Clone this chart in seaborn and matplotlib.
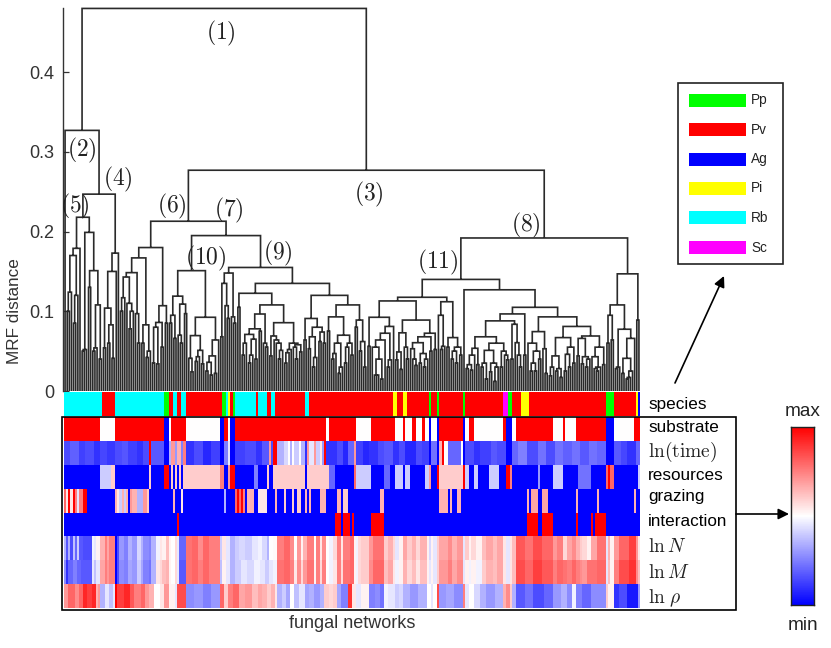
import numpy as np
import pandas as pd
import seaborn as sns
import matplotlib
matplotlib.use("Agg")
import matplotlib.pyplot as plt
from matplotlib.colors import ListedColormap
from matplotlib.patches import Rectangle, FancyArrowPatch

# ---------- data ----------
# merge height (x1000) between neighbouring leaves of the dendrogram, 269 values for 270 networks
MERGE_HEIGHTS = [
    327, 100, 124, 170, 85, 120, 179, 218, 50, 52,
    199, 130, 151, 50, 54, 108, 40, 247, 54, 104,
    60, 83, 41, 150, 173, 480, 100, 117, 143, 110,
    78, 100, 148.5, 97, 60, 167, 60, 83, 42, 50,
    180, 35, 80, 34, 86, 55, 107, 85, 213, 85,
    95, 66, 119, 70, 60, 109, 97, 151, 41, 24,
    69.5, 37, 43, 51, 34, 92.5, 25, 36, 20, 44,
    22, 64, 195, 68, 135, 107, 91, 148, 93, 85,
    155, 105, 122.6, 45, 60, 71, 35, 45, 65, 40,
    78, 75, 96.6, 60, 55, 108, 44, 69, 64, 60,
    40, 51, 85.7, 35, 48, 52, 60, 55, 40, 58,
    49, 135, 64, 91, 53, 68, 30, 42, 80, 62,
    74, 60, 120, 75, 93, 40, 47, 60, 22, 30,
    70, 35, 55, 60, 45, 108, 80, 89, 50, 62,
    30, 277, 56, 92.5, 55, 20, 20, 40, 15, 64,
    72.5, 30, 39, 81, 113, 39, 49, 27, 73, 55,
    40, 89, 53, 40, 32, 60.6, 35, 47, 30, 40,
    68, 50, 72.5, 52, 117.6, 95, 52, 56, 112, 55,
    67, 40, 50, 35, 55, 45, 140, 127, 28, 33,
    26, 45, 53.6, 33, 68, 30, 35, 15, 51, 24,
    35, 12, 30, 60, 30, 50, 45, 39, 88, 40,
    83.7, 60.6, 45, 30, 96.7, 45, 105, 60, 25, 35,
    25, 50, 40, 74.5, 53, 22, 93, 19, 30, 44,
    25, 28, 17, 67, 25, 46, 30, 55, 35, 81,
    44, 66, 34, 43, 30, 40, 69, 43, 28, 25,
    30, 55, 33, 192, 60, 95, 64, 108, 28, 30,
    77.5, 22, 41, 15, 17, 25, 66, 147, 89,
]

SPECIES_NAMES = ["Pp", "Pv", "Ag", "Pi", "Rb", "Sc"]
SPECIES_COLORS = ["#00ff00", "#ff0000", "#0000ff", "#ffff00", "#00ffff", "#ff00ff"]

# each strip is a run list: (last network of the run, value)
SPECIES_RUNS = [(18, 4), (24, 1), (47, 4), (49, 0), (51, 1), (53, 4), (55, 1), (57, 4), (74, 1), (76, 0), (77, 4), (78, 3),
                (79, 1), (80, 0), (90, 4), (91, 1), (95, 4), (97, 1), (99, 4), (113, 1), (115, 4), (154, 1), (156, 3),
                (159, 1), (161, 3), (171, 1), (172, 0), (175, 1), (176, 0), (187, 1), (188, 0), (206, 1), (208, 5),
                (210, 0), (214, 1), (218, 3), (254, 1), (258, 0), (268, 1), (269, 3), (270, 2)]
SUBSTRATE_RUNS = [(17, 1), (24, 0), (47, 1), (49, -1), (50, 0), (57, 1), (73, 0), (75, -1), (77, 1), (78, 0), (80, -1),
                  (123, 1), (124, 0), (137, 1), (144, 0), (155, 1), (159, 0), (160, 1), (163, 0), (165, 1), (168, 0),
                  (169, 1), (171, 0), (172, -1), (175, 0), (176, -1), (187, 1), (188, -1), (190, 0), (192, 1), (206, 0),
                  (207, 1), (210, -1), (212, 0), (229, 1), (234, 0), (235, 1), (240, 0), (254, 1), (258, -1), (267, 0), (270, 1)]
TIME_RUNS = [(3, -.7), (7, -.62), (10, -.75), (14, -.7), (17, -.8), (20, -.72), (24, -.78), (27, -.7), (30, -.66), (34, -.75),
             (37, -.8), (40, -.7), (41, 1), (47, -.65), (49, -1), (50, -.3), (52, .4), (53, -.4), (55, .3), (56, -.5), (57, .5),
             (61, -.8), (65, -.7), (69, -.85), (73, -.75), (75, -1), (77, -.5), (78, -.1), (80, -1), (85, -.75), (90, -.7),
             (93, -.8), (96, -.65), (97, .4), (98, -.7), (100, 1), (103, -.3), (105, -.15), (106, 0), (107, -.3), (108, 0),
             (110, -.2), (111, 0), (113, -.3), (114, -.8), (115, .4), (117, -.1), (118, .4), (120, -.2), (121, .1), (122, -.4),
             (123, 1), (128, -.8), (131, -.7), (133, -.85), (136, -.6), (137, .4), (140, -.75), (143, -.85), (147, -.8), (150, -.7),
             (154, -.65), (157, -.8), (160, -.7), (165, -.85), (168, -.7), (171, -.75), (172, -1), (175, -.55), (176, -1), (177, .3),
             (178, 1), (180, 0), (186, -.6), (187, 0), (188, -1), (192, -.7), (195, -.8), (200, -.75), (203, -.65), (207, -.7),
             (210, -1), (213, -.6), (217, -.5), (222, -.7), (226, -.55), (230, -.7), (234, -.55), (238, -.62), (242, -.55),
             (246, -.65), (250, -.55), (254, -.6), (258, -1), (261, -.65), (264, -.72), (268, -.8), (270, -.6)]
RESOURCES_RUNS = [(17, -1), (22, -.2), (24, .2), (40, -1), (41, .2), (47, -1), (49, 1), (50, -1), (51, .2), (52, -1), (53, .2),
                  (54, -1), (55, .2), (56, -1), (73, .2), (75, .5), (77, -1), (78, .4), (80, 1), (89, -1), (91, -.5), (95, -1),
                  (96, .2), (98, -1), (113, .2), (114, -1), (124, .2), (127, -.6), (136, -1), (137, .6), (144, -.2), (150, -1),
                  (153, -.6), (155, -1), (159, -.2), (160, -1), (162, -.2), (169, -1), (171, -.2), (172, .4), (175, -1), (176, 1),
                  (187, .2), (188, 1), (190, -.2), (192, -1), (194, -.2), (199, -1), (204, -.2), (207, -1), (209, 1), (210, .5),
                  (222, -1), (223, -.4), (229, -1), (234, -.2), (241, -1), (247, -.55), (254, -1), (255, .6), (256, 1), (258, .6),
                  (269, -1), (270, -.2)]
GRAZING_RUNS = [(1, .6), (2, .1), (3, 1), (4, .1), (5, 1), (6, .5), (7, -.1), (9, .5), (11, 1), (24, -1), (25, .3), (26, .1),
                (27, -.2), (28, .3), (29, -.2), (30, .3), (31, -1), (32, .4), (34, .3), (37, -.3), (39, .4), (40, .2), (51, -1),
                (52, .3), (55, -1), (56, .1), (75, -1), (76, -.3), (80, -1), (81, .6), (82, 1), (83, .6), (84, 1), (85, .5), (86, -1),
                (89, .3), (91, -1), (95, .1), (99, -1), (100, .3), (103, -1), (104, .2), (107, -1), (108, .2), (109, -1), (111, .2),
                (113, -1), (114, .3), (115, -1), (116, .3), (120, -1), (123, .3), (128, -1), (130, .3), (131, -1), (133, .2),
                (148, -1), (150, .3), (176, -1), (180, .3), (181, -1), (182, .3), (184, -1), (186, .3), (217, -1), (218, .3),
                (219, -1), (222, .35), (224, -1), (227, .35), (240, -1), (241, .3), (250, -1), (251, .3), (267, -1), (268, .3), (270, -1)]
INTERACTION_RUNS = [(53, -1), (54, 1), (127, -1), (130, 1), (131, -1), (134, 1), (135, -1), (136, 1), (144, -1), (150, 1),
                    (217, -1), (222, 1), (224, -1), (229, 1), (240, -1), (241, 1), (247, -1), (248, 1), (249, -1), (254, 1), (270, -1)]
LN_N_RUNS = [(1, -.3), (2, -.65), (3, -.3), (4, -.7), (5, -.25), (6, -.6), (7, -.2), (9, -.65), (13, -.7), (14, -.05), (15, -.1),
             (17, .05), (19, .3), (20, .5), (21, .35), (24, .5), (25, -1), (26, -.7), (28, -.4), (30, -.5), (32, -.3), (34, -.4),
             (36, -.15), (37, -.3), (40, -.45), (41, -.5), (43, -.3), (45, -.05), (46, .1), (48, .05), (49, .25), (50, .05), (52, 0),
             (53, .15), (54, -.1), (57, -.6), (60, .55), (63, .6), (65, .45), (68, .6), (73, .5), (74, -.2), (76, .1), (78, -.1),
             (80, -.3), (82, -.2), (85, -.15), (88, -.2), (91, -.1), (93, -.05), (95, -.15), (96, -.3), (98, 0), (100, .02),
             (103, .5), (106, .6), (108, .45), (109, 0), (111, .4), (112, .05), (114, .3), (117, .5), (118, 0), (120, .5), (121, .1),
             (123, .45), (124, 0), (126, -.05), (128, .15), (130, .5), (131, .1), (134, .5), (136, .6), (137, .05), (138, -.05),
             (139, .15), (143, .2), (145, .4), (150, .55), (152, .2), (154, .3), (155, .15), (157, -.1), (159, .05), (161, .35),
             (163, .2), (165, .3), (167, .15), (170, .3), (171, .05), (172, -.15), (173, .05), (175, -.1), (176, .2), (180, .35),
             (182, .45), (184, .3), (187, .4), (188, -.1), (190, .2), (191, .05), (193, .15), (196, .05), (198, .25), (201, .35),
             (203, .25), (206, .35), (207, .1), (209, -.1), (210, .1), (212, .25), (216, .65), (220, .55), (224, .7), (229, .6),
             (231, .4), (234, .5), (236, .15), (238, .35), (240, .45), (242, .3), (243, .2), (245, .15), (247, .05), (250, .35),
             (254, .55), (255, -.1), (256, .3), (258, .05), (260, .4), (265, .6), (268, .75), (269, .4), (270, .1)]
LN_M_RUNS = [(1, -.45), (2, -.8), (4, -.6), (6, -.5), (8, -.6), (13, -.65), (14, -.1), (15, -.25), (17, -.1), (19, .35), (20, .5),
             (21, .4), (24, .5), (25, -1), (26, -.7), (28, -.45), (30, -.5), (32, -.35), (34, -.4), (36, -.2), (37, -.35), (40, -.5),
             (41, -.55), (43, -.3), (45, .1), (46, .15), (48, .25), (49, .3), (50, .05), (52, 0), (53, .15), (54, -.1), (57, -.65),
             (60, .55), (63, .6), (65, .5), (68, .6), (73, .5), (74, -.25), (76, .05), (78, -.1), (80, -.3), (83, -.2), (86, -.1),
             (89, -.15), (92, -.05), (94, -.1), (96, -.2), (98, -.1), (100, -.05), (103, .55), (106, .6), (108, .5), (109, .1),
             (111, .45), (112, .15), (114, .4), (117, .55), (118, .05), (120, .5), (121, .15), (123, .5), (124, 0), (126, -.05),
             (128, .1), (130, .5), (131, .15), (134, .55), (136, .6), (137, .05), (138, -.05), (139, .15), (143, .2), (145, .45),
             (150, .6), (152, .25), (154, .35), (155, .1), (157, -.05), (159, .05), (161, .3), (163, .15), (165, .25), (167, .1),
             (170, .25), (171, .05), (172, -.1), (173, .05), (175, -.1), (176, .2), (180, .4), (182, .5), (184, .35), (187, .45),
             (188, -.1), (190, .05), (191, -.05), (193, .05), (196, -.05), (198, .2), (201, .3), (203, .25), (206, .35), (207, .1),
             (209, -.1), (210, .1), (212, .25), (216, .7), (220, .6), (224, .75), (229, .65), (231, .5), (234, .6), (236, .55),
             (238, .5), (240, .6), (242, .5), (243, .45), (245, .4), (247, .55), (250, .55), (254, .6), (255, -.1), (256, .25),
             (258, .05), (260, .5), (265, .7), (268, .8), (269, .45), (270, .25)]
LN_RHO_RUNS = [(2, .4), (5, .6), (7, .45), (9, .6), (11, .85), (13, .75), (15, .85), (16, .3), (17, .4), (19, -.3), (21, -.1),
               (23, -.25), (24, -.1), (25, 1), (28, .75), (31, .85), (33, .65), (36, .5), (38, .6), (40, .4), (42, .3), (45, 0),
               (47, .1), (49, .4), (52, .05), (53, -.1), (57, .7), (61, -.45), (65, -.4), (69, -.5), (73, -.4), (75, .6), (77, .2),
               (79, .5), (82, .6), (85, .35), (88, .4), (91, .25), (93, .35), (95, .3), (97, .2), (99, .3), (100, .1), (102, -.3),
               (104, -.2), (106, -.35), (108, 0), (110, -.25), (113, -.1), (115, -.35), (117, -.3), (120, -.4), (122, -.3),
               (124, .2), (126, .15), (128, .2), (130, -.35), (133, -.5), (135, .8), (137, .1), (139, -.1), (143, .05), (146, -.5),
               (148, -.45), (150, -.55), (152, -.05), (155, -.1), (157, -.2), (159, -.15), (162, -.3), (166, -.4), (170, -.3),
               (172, 0), (173, -.1), (175, 0), (176, .7), (179, -.4), (183, -.35), (187, -.45), (188, .5), (190, -.1), (192, 0),
               (195, -.15), (198, -.3), (202, -.4), (206, -.3), (207, .3), (209, .45), (210, .2), (212, -.3), (216, -.65), (220, -.55),
               (225, -.7), (229, -.6), (233, -.4), (236, -.3), (238, -.45), (240, -.05), (243, -.5), (247, -.6), (254, -.45), (255, .2),
               (258, .05), (260, -.8), (264, -.7), (269, -.9), (270, -.4)]

ROW_LABELS = ["substrate", r"$\ln(\mathrm{time})$", "resources", "grazing", "interaction",
              r"$\ln N$", r"$\ln M$", r"$\ln\,\rho$"]
Y_TICKS = [0, 0.1, 0.2, 0.3, 0.4]
Y_TICK_LABELS = ["0", "0.1", "0.2", "0.3", "0.4"]
CLUSTER_NAMES = ["(1)", "(2)", "(3)", "(4)", "(5)", "(6)", "(7)", "(8)", "(9)", "(10)", "(11)"]

# ---------- helpers ----------
W, H = 831, 648
sns.set_style("white")
plt.rcParams["font.family"] = ["Liberation Sans", "DejaVu Sans"]
plt.rcParams["mathtext.fontset"] = "cm"

fig = plt.figure(figsize=(W / 100, H / 100), dpi=100, facecolor="white")


def ax_px(x0, y0, x1, y1):
    return fig.add_axes([x0 / W, 1 - y1 / H, (x1 - x0) / W, (y1 - y0) / H])


def fx(x):
    return x / W


def fy(y):
    return 1 - y / H


def expand(runs):
    ends = [r[0] for r in runs]
    vals = [r[1] for r in runs]
    out = np.repeat(vals, np.diff([0] + ends))
    assert len(out) == 270
    return out


# ---------- dendrogram ----------
gaps = np.array(MERGE_HEIGHTS, dtype=float) / 1000
lx, ly = [], []


def build(lo, hi):
    if lo == hi:
        return lo + 0.5, 0.0
    k = lo + int(np.argmax(gaps[lo:hi]))
    h = gaps[k]
    xl, hl = build(lo, k)
    xr, hr = build(k + 1, hi)
    lx.extend([xl, xl, xr, xr, np.nan])
    ly.extend([hl, h, h, hr, np.nan])
    return (xl + xr) / 2, h


build(0, len(gaps))

ax = ax_px(64, 8, 640, 391)
ax.plot(lx, ly, color="#2a2a2a", lw=1.2, solid_joinstyle="miter", solid_capstyle="butt", clip_on=False)
ax.set_xlim(0, 270)
ax.set_ylim(0, 383 / 797)
ax.patch.set_alpha(0)
for s in ["top", "right", "bottom"]:
    ax.spines[s].set_visible(False)
ax.spines["left"].set_color("#333333")
ax.spines["left"].set_linewidth(1.0)
ax.spines["left"].set_position(("outward", 1))
ax.set_xticks([])
ax.set_yticks(Y_TICKS)
ax.set_yticklabels(Y_TICK_LABELS, fontsize=13, color="#333333")
ax.tick_params(axis="y", direction="in", length=4, width=0.9, color="#333333", pad=6, left=True)
ax.set_ylabel("MRF distance", fontsize=12.3, color="#333333", va="center")
ax.yaxis.set_label_coords((14 - 64) / 576, (391 - 311) / 383)

# ---------- species strip ----------
ax_s = ax_px(64, 392, 640, 416)
sp = pd.DataFrame([expand(SPECIES_RUNS)])
sns.heatmap(sp, ax=ax_s, cmap=ListedColormap(SPECIES_COLORS), vmin=-0.5, vmax=5.5,
            cbar=False, xticklabels=False, yticklabels=False)

# ---------- trait heat map ----------
ax_h = ax_px(64, 417, 640, 608)
rows = [expand(SUBSTRATE_RUNS), expand(TIME_RUNS), expand(RESOURCES_RUNS), expand(GRAZING_RUNS),
        expand(INTERACTION_RUNS), expand(LN_N_RUNS), expand(LN_M_RUNS), expand(LN_RHO_RUNS)]
sns.heatmap(pd.DataFrame(rows, index=ROW_LABELS), ax=ax_h, cmap="bwr", vmin=-1, vmax=1,
            cbar=False, xticklabels=False, yticklabels=False)
ax_h.set_ylabel("")

fig.add_artist(Rectangle((fx(61.5), fy(609.5)), (736 - 61.5) / W, (609.5 - 417) / H, transform=fig.transFigure,
                         fill=False, ec="black", lw=1.2))

# row labels
row_y = [427, 452, 475, 497, 521, 547, 573, 598]
fig.text(fx(648), fy(405), "species", fontsize=12.3, va="center", ha="left", color="black")
for lab, y in zip(ROW_LABELS, row_y):
    math = lab.startswith("$")
    fig.text(fx(648), fy(y), lab, fontsize=14 if math else 12.3, va="center", ha="left",
             color="#222222" if math else "black")

fig.text(fx(352), fy(623), "fungal networks", fontsize=13, ha="center", va="center", color="#333333")

# cluster labels
label_xy = [(221, 33), (82, 150), (369, 194), (118, 179), (75, 206), (172, 206),
            (229, 210), (526, 225), (278, 253), (206, 258), (438, 262)]
for name, (x, y) in zip(CLUSTER_NAMES, label_xy):
    fig.text(fx(x), fy(y), "$" + name + "$", fontsize=17, ha="center", va="center", color="#222222")

# ---------- species legend ----------
fig.add_artist(Rectangle((fx(678), fy(264)), (783 - 678) / W, (264 - 83) / H, transform=fig.transFigure,
                         fill=False, ec="#222222", lw=1.2))
legend_y = [100, 129.5, 159, 188.5, 218, 247.5]
for name, col, y in zip(SPECIES_NAMES, SPECIES_COLORS, legend_y):
    fig.add_artist(Rectangle((fx(689), fy(y + 6.5)), (746 - 689) / W, 13 / H, transform=fig.transFigure,
                             fc=col, ec="none"))
    fig.text(fx(751), fy(y), name, fontsize=9.8, va="center", ha="left", color="#222222")

# ---------- colour bar ----------
ax_c = ax_px(791, 427, 814, 605)
sns.heatmap(pd.DataFrame(np.linspace(1, -1, 256)[:, None]), ax=ax_c, cmap="bwr", vmin=-1, vmax=1,
            cbar=False, xticklabels=False, yticklabels=False)
for s in ax_c.spines.values():
    s.set_visible(True)
    s.set_color("#222222")
    s.set_linewidth(1.0)
fig.text(fx(803), fy(412), "max", fontsize=13.7, ha="center", va="center", color="#222222")
fig.text(fx(803), fy(625), "min", fontsize=13.7, ha="center", va="center", color="#222222")

# ---------- arrows ----------
for start, end in [((675, 383), (724, 276)), ((736, 514), (789, 514))]:
    fig.add_artist(FancyArrowPatch(
        (fx(start[0]), fy(start[1])), (fx(end[0]), fy(end[1])), transform=fig.transFigure,
        arrowstyle="-|>", mutation_scale=16, lw=1.2, color="black", shrinkA=0, shrinkB=0))

fig.savefig("out.png", dpi=100)
